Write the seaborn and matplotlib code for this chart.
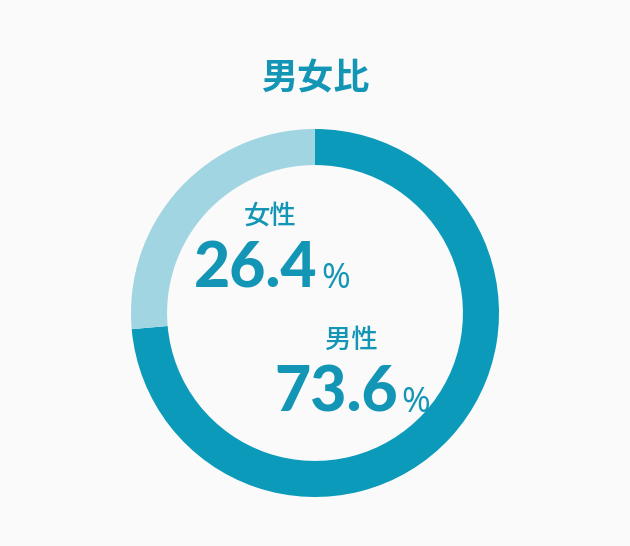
import matplotlib
matplotlib.use("Agg")
import matplotlib.pyplot as plt
import seaborn as sns

# data
labels = ["男性", "女性"]
shares = [73.6, 26.4]
colors = ["#0b9aba", "#a1d5e2"]
title = "男女比"

TEXT = "#1395b5"
BG = "#fafafa"

sns.set_theme(style="white")
plt.rcParams["font.family"] = ["Noto Sans CJK JP", "DejaVu Sans"]

W, H = 630, 546
fig = plt.figure(figsize=(W / 100, H / 100), dpi=100, facecolor=BG)

# donut: centre (315, 313) px, outer radius 184 px
cx, cy, r = 315, 313, 184
ax = fig.add_axes([(cx - r) / W, (H - cy - r) / H, 2 * r / W, 2 * r / H])
ax.set_facecolor(BG)
ax.pie(shares, colors=colors, startangle=90, counterclock=False,
       radius=1.0, wedgeprops=dict(width=0.196, edgecolor="none"))
ax.set_xlim(-1, 1)
ax.set_ylim(-1, 1)
ax.set_aspect("equal")
ax.axis("off")


def px(x, y):
    return x / W, 1 - y / H


fig.text(*px(315, 79), title, ha="center", va="center", fontsize=26,
         fontweight="bold", color=TEXT)

# labels: (name pos, number right edge, baseline)
label_pos = {"女性": ((270, 216), 318, 288), "男性": ((351, 340), 398, 412)}
for name, val in zip(labels, shares):
    (lx, ly), nx, base = label_pos[name]
    fig.text(*px(lx, ly), name, ha="center", va="center", fontsize=19,
             fontweight="medium", color=TEXT)
    fig.text(*px(nx, base), f"{val:.1f}", ha="right", va="baseline",
             fontsize=45, fontweight="black", family=["Lato", "DejaVu Sans"],
             color=TEXT)
    fig.text(*px(nx + 3, base), "%", ha="left", va="baseline",
             fontsize=25, family=["Open Sans", "DejaVu Sans"], color=TEXT)

fig.savefig("out.png", dpi=100, facecolor=BG)
